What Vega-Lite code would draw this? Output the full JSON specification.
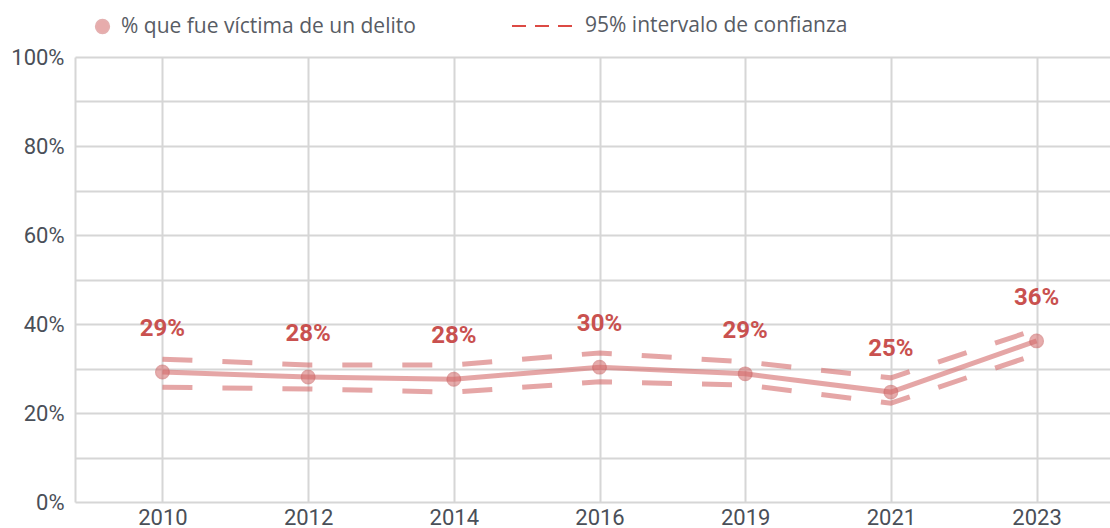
{
  "$schema": "https://vega.github.io/schema/vega-lite/v6.json",
  "width": 1049,
  "height": 445,
  "autosize": {"type": "none"},
  "padding": {"left": 75, "top": 57, "right": -14, "bottom": 26},
  "background": "#ffffff",
  "config": {"view": {"stroke": null}, "font": "Roboto"},
  "data": {
    "values": [
      {"anio": "2010", "valor": 0.292, "inf": 0.258, "sup": 0.321},
      {"anio": "2012", "valor": 0.281, "inf": 0.254, "sup": 0.308},
      {"anio": "2014", "valor": 0.276, "inf": 0.247, "sup": 0.308},
      {"anio": "2016", "valor": 0.303, "inf": 0.270, "sup": 0.335},
      {"anio": "2019", "valor": 0.288, "inf": 0.263, "sup": 0.315},
      {"anio": "2021", "valor": 0.247, "inf": 0.222, "sup": 0.279},
      {"anio": "2023", "valor": 0.362, "inf": 0.332, "sup": 0.388}
    ]
  },
  "encoding": {
    "x": {
      "field": "anio",
      "type": "ordinal",
      "sort": null,
      "scale": {"type": "point", "padding": 0.6},
      "axis": {
        "title": null,
        "labelAngle": 0,
        "labelFont": "Roboto",
        "labelFontSize": 22,
        "labelColor": "#4a4f58",
        "labelPadding": 5,
        "ticks": false,
        "domain": false,
        "grid": true,
        "gridColor": "#d6d6d6",
        "gridWidth": 2
      }
    }
  },
  "layer": [
    {
      "mark": {"type": "line", "strokeWidth": 5, "strokeDash": [30, 30], "color": "#d46a6a", "strokeOpacity": 0.6},
      "encoding": {
        "y": {"field": "inf", "type": "quantitative"}
      }
    },
    {
      "mark": {"type": "line", "strokeWidth": 5, "strokeDash": [30, 30], "color": "#d46a6a", "strokeOpacity": 0.6},
      "encoding": {
        "y": {
          "field": "sup",
          "type": "quantitative",
          "scale": {"domain": [0, 1], "nice": false},
          "axis": {
            "title": null,
            "values": [0, 0.1, 0.2, 0.3, 0.4, 0.5, 0.6, 0.7, 0.8, 0.9, 1],
            "format": ".0%",
            "labelExpr": "(round(datum.value*10) % 2 == 0) ? datum.label : ''",
            "labelFont": "Roboto",
            "labelFontSize": 22,
            "labelColor": "#4a4f58",
            "labelPadding": 11,
            "ticks": false,
            "domain": true,
            "domainColor": "#d6d6d6",
            "domainWidth": 2,
            "grid": true,
            "gridColor": "#d6d6d6",
            "gridWidth": 2
          }
        },
        "opacity": {
          "datum": "95% intervalo de confianza",
          "type": "nominal",
          "scale": {"type": "ordinal", "domain": ["95% intervalo de confianza"], "range": [1]},
          "legend": {
            "orient": "none",
            "legendX": 436,
            "legendY": -62,
            "title": null,
            "padding": 0,
            "labelFont": "Open Sans",
            "labelFontSize": 21,
            "labelColor": "#585c64",
            "labelLimit": 0,
            "symbolType": "stroke",
            "symbolSize": 3600,
            "symbolDash": [14, 9],
            "symbolStrokeColor": "#dc4a44",
            "symbolStrokeWidth": 2,
            "symbolOpacity": 1,
            "labelOffset": 12
          }
        }
      }
    },
    {
      "mark": {"type": "line", "strokeWidth": 5, "color": "#d46a6a", "opacity": 0.6},
      "encoding": {
        "y": {"field": "valor", "type": "quantitative"}
      }
    },
    {
      "mark": {"type": "point", "filled": true, "size": 180, "opacity": 0.55, "strokeWidth": 1.5, "stroke": "#c85c5c"},
      "encoding": {
        "y": {"field": "valor", "type": "quantitative"},
        "color": {
          "datum": "% que fue víctima de un delito",
          "type": "nominal",
          "scale": {"domain": ["% que fue víctima de un delito"], "range": ["#d46a6a"]},
          "legend": {
            "orient": "none",
            "legendX": 17,
            "legendY": -41,
            "title": null,
            "padding": 0,
            "labelFont": "Open Sans",
            "labelFontSize": 21,
            "labelColor": "#585c64",
            "labelLimit": 0,
            "symbolType": "circle",
            "symbolSize": 190,
            "symbolStrokeColor": "#cf7070",
            "symbolStrokeWidth": 1.5,
            "labelOffset": 8
          }
        }
      }
    },
    {
      "mark": {"type": "text", "dy": -43, "font": "Roboto", "fontSize": 24, "fontWeight": "bold", "color": "#c9514f", "baseline": "middle"},
      "encoding": {
        "y": {"field": "valor", "type": "quantitative"},
        "text": {"field": "valor", "type": "quantitative", "format": ".0%"}
      }
    }
  ]
}
